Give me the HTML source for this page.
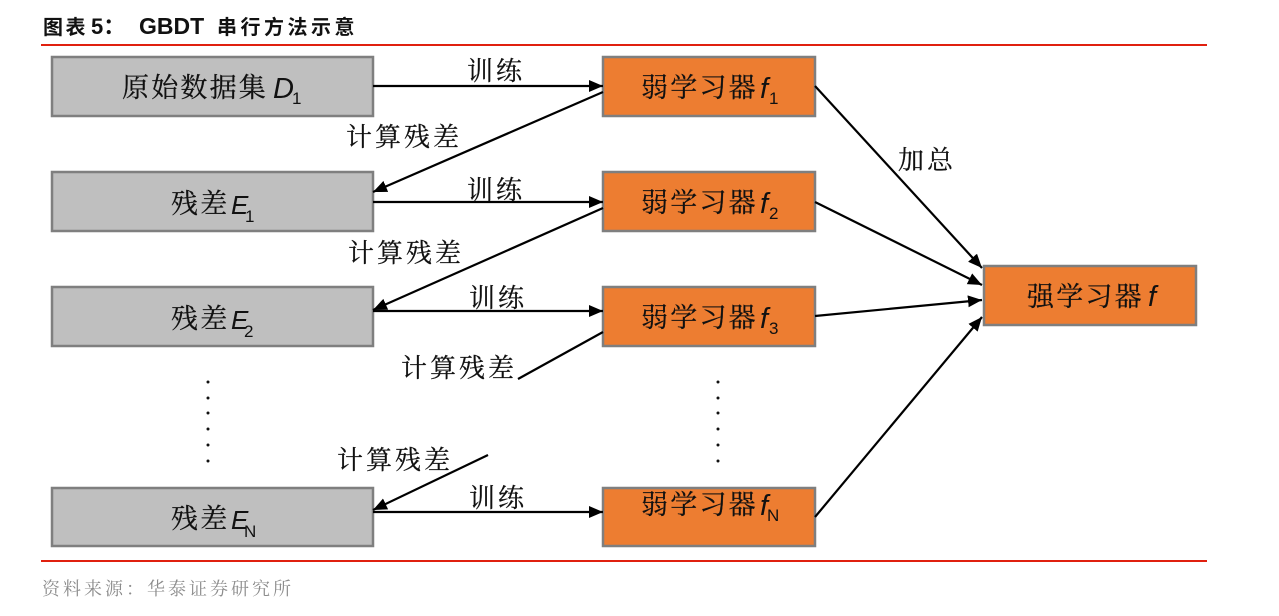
<!DOCTYPE html>
<html><head><meta charset="utf-8"><style>
html,body{margin:0;padding:0;background:#fff;width:1279px;height:616px;overflow:hidden}
svg{display:block}
.c{font-family:"Liberation Serif","Noto Serif CJK SC",serif;fill:#111;font-weight:400;stroke:#111;stroke-width:.25}
.l{font-size:26px;letter-spacing:3px}
.b{font-size:27px;letter-spacing:2.2px}
.i{font-family:"Liberation Sans",sans-serif;font-style:italic;font-size:29px;fill:#111}
.e{font-size:26px}
.s{font-family:"Liberation Sans",sans-serif;font-size:17px;fill:#111}
.t{font-family:"Liberation Sans","Noto Sans CJK SC",sans-serif;font-weight:700;fill:#111}
</style></head><body>
<svg width="1279" height="616" viewBox="0 0 1279 616" xmlns="http://www.w3.org/2000/svg">
<defs><marker id="a" markerUnits="userSpaceOnUse" markerWidth="16" markerHeight="14" refX="14" refY="6" orient="auto"><path d="M0 0L14 6L0 12Z" fill="#000"/></marker></defs>
<text class="t" x="43" y="34" font-size="20" letter-spacing="2.5">图表</text>
<text class="t" x="91" y="34" font-size="22">5：</text>
<text class="t" x="139" y="34" font-size="23">GBDT</text>
<text class="t" x="217" y="34" font-size="20" letter-spacing="3.5">串行方法示意</text>
<rect x="41" y="44" width="1166" height="2" fill="#e0200f"/>
<rect x="41" y="560" width="1166" height="2" fill="#e0200f"/>
<text x="42" y="595" font-family="'Liberation Serif','Noto Serif CJK SC',serif" font-size="18" fill="#8c8c8c" letter-spacing="3">资料来源：华泰证券研究所</text>

<g fill="#bfbfbf" stroke="#7f7f7f" stroke-width="2.5">
<rect x="52" y="57" width="321" height="59"/>
<rect x="52" y="172" width="321" height="59"/>
<rect x="52" y="287" width="321" height="59"/>
<rect x="52" y="488" width="321" height="58"/>
</g>
<g fill="#ed7d31" stroke="#7f7f7f" stroke-width="2.5">
<rect x="603" y="57" width="212" height="59"/>
<rect x="603" y="172" width="212" height="59"/>
<rect x="603" y="287" width="212" height="59"/>
<rect x="603" y="488" width="212" height="58"/>
<rect x="984" y="266" width="212" height="59"/>
</g>

<g stroke="#000" stroke-width="2.2" fill="none" marker-end="url(#a)">
<line x1="373" y1="86" x2="603" y2="86"/>
<line x1="373" y1="202" x2="603" y2="202"/>
<line x1="373" y1="311" x2="603" y2="311"/>
<line x1="373" y1="512" x2="603" y2="512"/>
<line x1="603" y1="92" x2="373" y2="192"/>
<line x1="603" y1="208" x2="373" y2="310"/>
<line x1="488" y1="455" x2="373" y2="510"/>
<line x1="815" y1="86" x2="982" y2="268"/>
<line x1="815" y1="202" x2="982" y2="285"/>
<line x1="815" y1="316" x2="982" y2="300"/>
<line x1="815" y1="517" x2="982" y2="317"/>
</g>
<line x1="603" y1="332" x2="518" y2="379" stroke="#000" stroke-width="2.2"/>

<text class="c l" x="467" y="80">训练</text>
<text class="c l" x="467" y="199">训练</text>
<text class="c l" x="469" y="307">训练</text>
<text class="c l" x="469" y="507">训练</text>
<text class="c l" x="346" y="146">计算残差</text>
<text class="c l" x="348" y="262">计算残差</text>
<text class="c l" x="401" y="377">计算残差</text>
<text class="c l" x="337" y="469">计算残差</text>
<text class="c l" x="898" y="169">加总</text>

<text class="c b" x="122" y="97">原始数据集</text><text class="i" x="273" y="98">D</text><text class="s" x="292" y="104">1</text>
<text class="c b" x="171" y="213">残差</text><text class="i e" x="231" y="214">E</text><text class="s" x="245" y="222">1</text>
<text class="c b" x="171" y="328">残差</text><text class="i e" x="231" y="329">E</text><text class="s" x="244" y="337">2</text>
<text class="c b" x="171" y="528">残差</text><text class="i e" x="231" y="529">E</text><text class="s" x="244" y="537">N</text>

<text class="c b" x="641" y="97">弱学习器</text><text class="i" x="760" y="98">f</text><text class="s" x="769" y="104">1</text>
<text class="c b" x="641" y="212">弱学习器</text><text class="i" x="760" y="213">f</text><text class="s" x="769" y="219">2</text>
<text class="c b" x="641" y="327">弱学习器</text><text class="i" x="760" y="328">f</text><text class="s" x="769" y="334">3</text>
<text class="c b" x="641" y="514">弱学习器</text><text class="i" x="760" y="515">f</text><text class="s" x="767" y="521">N</text>
<text class="c b" x="1027" y="306">强学习器</text><text class="i" x="1148" y="306">f</text>

<g fill="#111">
<circle cx="208" cy="382" r="1.5"/><circle cx="208" cy="398" r="1.5"/><circle cx="208" cy="413" r="1.5"/><circle cx="208" cy="429" r="1.5"/><circle cx="208" cy="445" r="1.5"/><circle cx="208" cy="461" r="1.5"/>
<circle cx="718" cy="382" r="1.5"/><circle cx="718" cy="398" r="1.5"/><circle cx="718" cy="413" r="1.5"/><circle cx="718" cy="429" r="1.5"/><circle cx="718" cy="445" r="1.5"/><circle cx="718" cy="461" r="1.5"/>
</g>
</svg>
</body></html>
